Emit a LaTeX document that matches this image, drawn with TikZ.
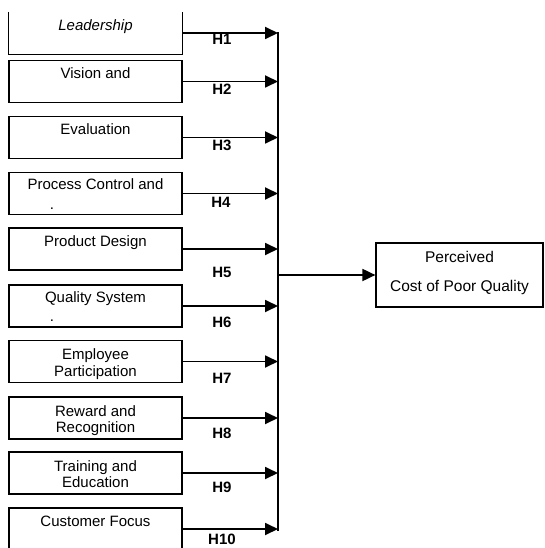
\documentclass[tikz,border=0pt]{standalone}
\usepackage{fontspec}
\setmainfont{Liberation Sans}
\usetikzlibrary{positioning,arrows.meta,calc}

\begin{document}
\begin{tikzpicture}[x=1pt,y=-1pt,
  box/.style={rectangle, minimum width=173pt, minimum height=42pt, inner sep=0pt},
  boxline/.style={line width=1.2pt},
  txt/.style={inner sep=0pt, align=center, text height=10pt, text depth=3pt, font=\fontsize{15}{16.5}\selectfont},
  hyp/.style={inner sep=0pt, text height=10pt, text depth=0pt, font=\fontsize{15}{15}\selectfont\bfseries},
  arr/.style={line width=1.8pt, -{Triangle[length=13pt,width=12pt]}}]
\useasboundingbox (0,0) rectangle (544,548);

% Fattori
\node[box] (b1) at (95.5,33) {};
\draw[boxline] (b1.north west) -- (b1.south west) -- (b1.south east) -- (b1.north east);
\node[box, draw, boxline] (b2) at (95.5,81.5) {};
\node[box, draw, boxline] (b3) at (95.5,137.5) {};
\node[box, draw, boxline] (b4) at (95.5,193.5) {};
\node[box, draw, boxline] (b5) at (95.5,249) {};
\node[box, draw, boxline] (b6) at (95.5,306) {};
\node[box, draw, boxline] (b7) at (95.5,361.5) {};
\node[box, draw, boxline] (b8) at (95.5,418) {};
\node[box, draw, boxline] (b9) at (95.5,473) {};
\node[box, draw, boxline] (b10) at (95.5,529) {};

\node[txt, below=9pt of b1.north] (t1) {\itshape Leadership};
\node[txt, below=8pt of b2.north] (t2) {Vision and};
\node[txt, below=8pt of b3.north] (t3) {Evaluation};
\node[txt, below=7pt of b4.north] (t4) {Process Control and};
\node[txt, anchor=base] (d4) at (52,209) {.};
\node[txt, below=9pt of b5.north] (t5) {Product Design};
\node[txt, below=8pt of b6.north] (t6) {Quality System};
\node[txt, anchor=base] (d6) at (52,321) {.};
\node[txt, below=26pt of b7.north] (t7) {Employee\\Participation};
\node[txt, below=26pt of b8.north] (t8) {Reward and\\Recognition};
\node[txt, below=26pt of b9.north] (t9) {Training and\\Education};
\node[txt, below=9pt of b10.north] (t10) {Customer Focus};

% Esito
\node[rectangle, draw, boxline, minimum width=167pt, minimum height=64pt, inner sep=0pt,
  align=center, text depth=7pt, font=\fontsize{15.5}{29}\selectfont] (out) at (459.5,275) {Perceived\\Cost of Poor Quality};

% Collettore
\coordinate (bustop) at (278,32);
\coordinate (busbot) at (278,531);
\draw[line width=2.5pt] (bustop) -- (busbot);

\draw[arr] (b1.east) -- (b1.east -| bustop);
\draw[arr] (b2.east) -- (b2.east -| bustop);
\draw[arr] (b3.east) -- (b3.east -| bustop);
\draw[arr] (b4.east) -- (b4.east -| bustop);
\draw[arr] (b5.east) -- (b5.east -| bustop);
\draw[arr] (b6.east) -- (b6.east -| bustop);
\draw[arr] (b7.east) -- (b7.east -| bustop);
\draw[arr] (b8.east) -- (b8.east -| bustop);
\draw[arr] (b9.east) -- (b9.east -| bustop);
\draw[arr] (b10.east) -- (b10.east -| bustop);
\draw[arr] (out.west -| bustop) -- (out.west);

% Ipotesi
\node[hyp] (h1) at (222,40) {H1};
\node[hyp] (h2) at (222,90) {H2};
\node[hyp] (h3) at (222,145) {H3};
\node[hyp] (h4) at (221,202) {H4};
\node[hyp] (h5) at (222,272) {H5};
\node[hyp] (h6) at (222,322) {H6};
\node[hyp] (h7) at (222,378) {H7};
\node[hyp] (h8) at (222,433) {H8};
\node[hyp] (h9) at (222,487) {H9};
\node[hyp] (h10) at (222,539) {H10};
\end{tikzpicture}
\end{document}
